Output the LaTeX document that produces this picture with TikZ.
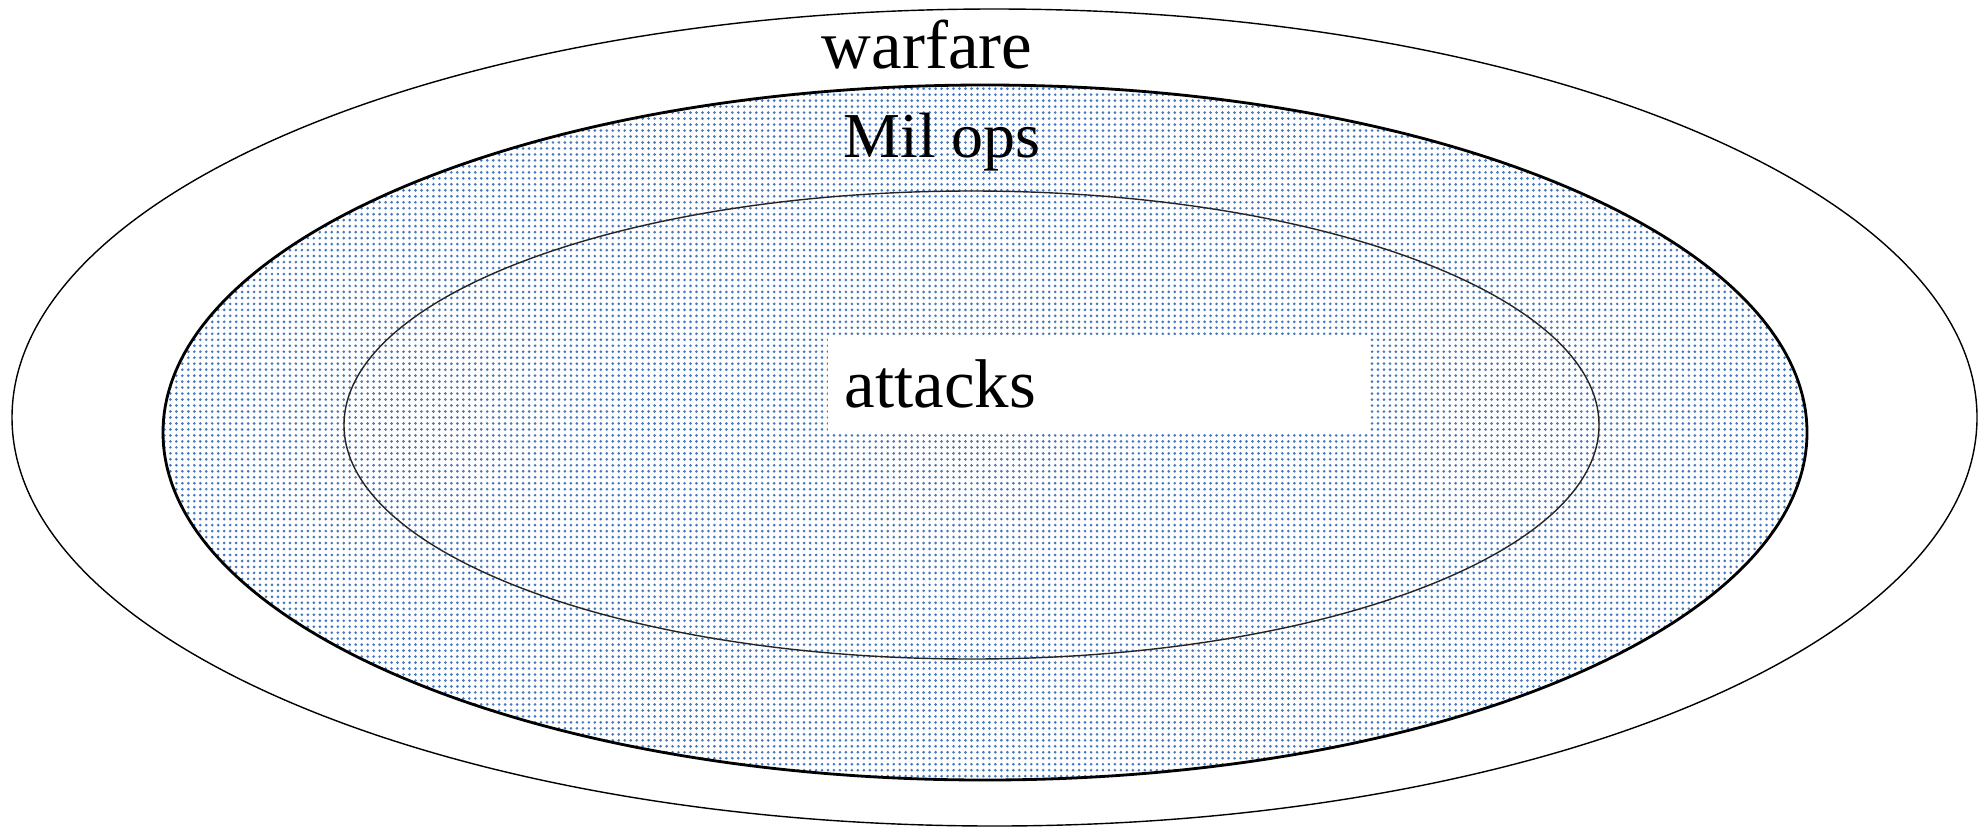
\documentclass[tikz,border=0pt]{standalone}
\usepackage{fontspec}
\setmainfont{Liberation Serif}
\usetikzlibrary{patterns.meta}
\definecolor{dotblue}{RGB}{70,120,190}
\tikzdeclarepattern{
  name=opsdots,
  type=uncolored,
  bottom left={(-0.1pt,-0.1pt)},
  top right={(1.8pt,1.8pt)},
  tile size={(1.7pt,1.7pt)},
  code={\fill (0.85pt,0.85pt) circle (0.42pt);}
}

\begin{document}
\begin{tikzpicture}[x=0.01cm, y=-0.01cm, every node/.style={inner sep=0pt}]
\useasboundingbox (0,0) rectangle (1979,827);
% warfare / Mil ops / attacks
\draw[line width=0.4pt] (994.5,417.5) ellipse [x radius=982.5, y radius=408.5];
\draw[line width=0.8pt, pattern=opsdots, pattern color=dotblue] (985,432.5) ellipse [x radius=822, y radius=347.5];
\draw[line width=0.4pt, draw=black!85] (971.5,425) ellipse [x radius=627.5, y radius=234];
\node[anchor=base] (warfare) at (927,68) {\fontsize{19.6pt}{23pt}\selectfont warfare};
\node[anchor=base] (milops) at (942,157) {\fontsize{18.2pt}{21pt}\selectfont Mil ops};
\node[anchor=north west, fill=white, inner xsep=0.17cm, text width=5.07cm, align=left, minimum height=0.99cm] (attacks) at (827,334) {\fontsize{19.6pt}{23pt}\selectfont attacks};
\end{tikzpicture}
\end{document}
